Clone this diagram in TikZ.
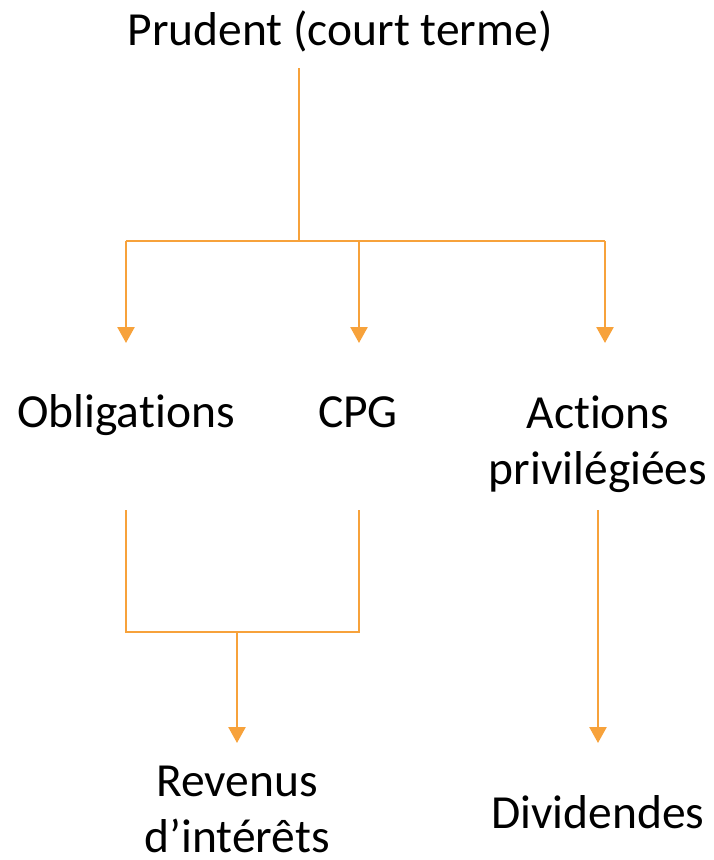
\documentclass[tikz,border=0pt]{standalone}
\usepackage{fontspec}
\setmainfont{Carlito}[Ligatures=NoCommon]
\usetikzlibrary{arrows.meta}
\definecolor{org}{HTML}{F7A23B}
\begin{document}
\begin{tikzpicture}[x=1pt,y=-1pt,
 lbl/.style={anchor=base,inner sep=0pt,align=center,font=\fontsize{47.5}{56}\selectfont},
 thinline/.style={draw=org,line width=1.3pt},
 arr/.style={draw=org,line width=2.6pt,-{Triangle[width=17pt,length=16pt]}}]
\useasboundingbox (0,0) rectangle (714,860);
\node[lbl] (title) at (340,45) {Prudent (court terme)};
\node[lbl] (obl) at (126,427) {Obligations};
\node[lbl] (cpg) at (358,427) {CPG};
\node[lbl] (act) at (598,484) {Actions\\privilégiées};
\node[lbl] (rev) at (237,852) {Revenus\\d’intérêts};
\node[lbl] (div) at (598,828) {Dividendes};
% junctions
\coordinate (t0) at (299,68);
\coordinate (j1) at (299,241);
\coordinate (hl) at (126,241);
\coordinate (hm) at (359,241);
\coordinate (hr) at (605,241);
\coordinate (aob) at (126,343);
\coordinate (acp) at (359,343);
\coordinate (aac) at (605,343);
\coordinate (ob0) at (126,510);
\coordinate (cp0) at (359,510);
\coordinate (bl) at (126,632);
\coordinate (br) at (359,632);
\coordinate (bm) at (237,632);
\coordinate (arv) at (237,743);
\coordinate (ac0) at (598,510);
\coordinate (adv) at (598,743);
\draw[thinline] (t0) -- (j1);
\draw[thinline] (hl) -- (hr);
\draw[arr] (hl) -- (aob);
\draw[arr] (hm) -- (acp);
\draw[arr] (hr) -- (aac);
\draw[thinline] (ob0) -- (bl) -- (br) -- (cp0);
\draw[arr] (bm) -- (arv);
\draw[arr] (ac0) -- (adv);
\end{tikzpicture}
\end{document}
